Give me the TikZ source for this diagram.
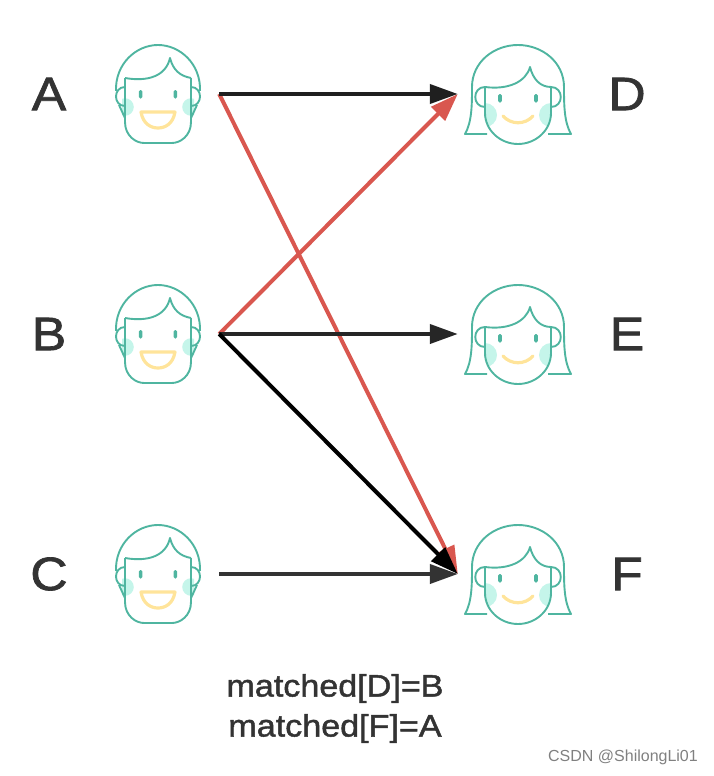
\documentclass[tikz,border=0pt]{standalone}
\usepackage{fontspec}
\setmainfont{Liberation Sans}
\newfontfamily\lblfont[FakeBold=1.5,FakeStretch=1.1]{Liberation Sans}
\usetikzlibrary{arrows.meta}
\definecolor{lnk}{HTML}{4FB5A0}
\definecolor{chk}{HTML}{C5F5EA}
\definecolor{mth}{HTML}{FFE49A}
\definecolor{redl}{HTML}{D9574F}
\definecolor{txt}{HTML}{333333}
\tikzset{fig/.style={
  x=1pt,
  y=-1pt
}}
\tikzset{ltr/.style={
  text=txt,
  font=\lblfont\fontsize{47}{50}\selectfont,
  inner sep=0pt
}}
\tikzset{boyn/.style={minimum width=122pt,minimum height=100pt,inner sep=0pt}}
\tikzset{girln/.style={minimum width=120pt,minimum height=100pt,inner sep=0pt}}
\tikzset{lnk/.style={draw=lnk,line width=1.9pt,line join=round}}
\tikzset{eye/.style={fill=lnk,rounded corners=1.5pt}}
\tikzset{mouth/.style={draw=mth,line width=3.2pt,line cap=round,line join=round}}
\tikzset{arr/.style={
  line width=4pt,
  -{Triangle[length=28pt,width=19pt]}
}}
\tikzset{boyface/.pic={
    % Cheeks
    \begin{scope}
      \clip (-36,-30) rectangle (36,40);
      \fill[chk] (-33,13) circle (8.8);
      \fill[chk] (33,13) circle (8.8);
    \end{scope}
    % Hair, ears and face
    \draw[lnk] (-42,-3) .. controls (-43,-30) and (-22,-49) .. (0,-49)
      .. controls (22,-49) and (43,-30) .. (42,-3);
    \draw[lnk] (-33,24) -- (-39,11);
    \draw[lnk] (33,24) -- (39,11);
    \draw[lnk] (-33,-16) -- (-33,28) .. controls (-33,42) and (-22,49) .. (-14,49)
      -- (14,49) .. controls (22,49) and (33,42) .. (33,28) -- (33,-16);
    \draw[lnk] (-33,-16) .. controls (-10,-12) and (8,-18) .. (12,-36)
      .. controls (15,-24) and (22,-18) .. (33,-16);
    \draw[lnk] (-33,-7) .. controls (-45,-7) and (-45,12) .. (-33,12);
    \draw[lnk] (33,-7) .. controls (45,-7) and (45,12) .. (33,12);
    % Eyes and mouth
    \fill[eye] (-19.2,-4) rectangle (-15.6,4.5);
    \fill[eye] (15.6,-4) rectangle (19.2,4.5);
    \draw[mouth] (-17,18) -- (17,18) .. controls (15,30) and (7,34) .. (0,34)
      .. controls (-7,34) and (-15,30) .. (-17,18) -- cycle;
}}
\tikzset{girlface/.pic={
    % Cheeks
    \begin{scope}
      \clip (-33,-6) -- (-33,19) .. controls (-33,36) and (-18,50) .. (0,50)
        .. controls (18,50) and (33,36) .. (33,19) -- (33,-6) -- cycle;
      \fill[chk] (-33,21) circle (12);
      \fill[chk] (33,21) circle (12);
    \end{scope}
    % Hair, ears and face
    \draw[lnk] (-31,40) -- (-53,40) .. controls (-46,28) and (-46,10) .. (-46,-7)
      .. controls (-46,-32) and (-24,-49) .. (0,-49)
      .. controls (24,-49) and (46,-32) .. (46,-7)
      .. controls (46,10) and (46,28) .. (53,40) -- (30,40);
    \draw[lnk] (-33,-7) -- (-33,19) .. controls (-33,36) and (-18,50) .. (0,50)
      .. controls (18,50) and (33,36) .. (33,19) -- (33,-7);
    \draw[lnk] (-33,-7) .. controls (-10,-4) and (8,-12) .. (12,-27)
      .. controls (15,-15) and (22,-7) .. (33,-7);
    \draw[lnk] (-33,-7) .. controls (-46,-7) and (-46,13) .. (-33,13);
    \draw[lnk] (33,-7) .. controls (46,-7) and (46,13) .. (33,13);
    % Eyes and mouth
    \fill[eye] (-19.8,0) rectangle (-16.2,8.5);
    \fill[eye] (16.2,0) rectangle (19.8,8.5);
    \draw[mouth] (-15,22) .. controls (-7,31) and (7,31) .. (15,22);
}}
\begin{document}
\begin{tikzpicture}[fig]
    \useasboundingbox (0,0) rectangle (714,776);

    % Left faces
    \pic at (158,94) {boyface};
    \pic at (158,334) {boyface};
    \pic at (158,574) {boyface};
    \node[boyn] (fa) at (158,94) {};
    \node[boyn] (fb) at (158,334) {};
    \node[boyn] (fc) at (158,574) {};

    % Right faces
    \pic at (518,94) {girlface};
    \pic at (518,334) {girlface};
    \pic at (518,574) {girlface};
    \node[girln] (fd) at (518,94) {};
    \node[girln] (fe) at (518,334) {};
    \node[girln] (ff) at (518,574) {};

    % Letters
    \node[ltr] (la) at (49,94) {A};
    \node[ltr] (lb) at (49,334) {B};
    \node[ltr] (lc) at (49,574) {C};
    \node[ltr] (ld) at (627,94) {D};
    \node[ltr] (le) at (627,334) {E};
    \node[ltr] (lf) at (627,574) {F};

    % Edges
    \draw[arr,redl] (fa.east) -- (ff.west);
    \draw[arr,redl] (fb.east) -- (fd.west);
    \draw[arr,color=black!88] (fa.east) -- (fd.west);
    \draw[arr,color=black!85] (fb.east) -- (fe.west);
    \draw[arr,black] (fb.east) -- (ff.west);
    \draw[arr,txt] (fc.east) -- (ff.west);

    % Bottom text
    \node[text=txt,font=\lblfont\fontsize{31}{40}\selectfont,align=center,inner sep=0pt] (mt) at (335,708.5)
      {matched[D]=B\\matched[F]=A};
    \node[text=black!50,font=\fontsize{16}{18}\selectfont,inner sep=0pt] (wm) at (623,757) {CSDN @ShilongLi01};
\end{tikzpicture}
\end{document}
